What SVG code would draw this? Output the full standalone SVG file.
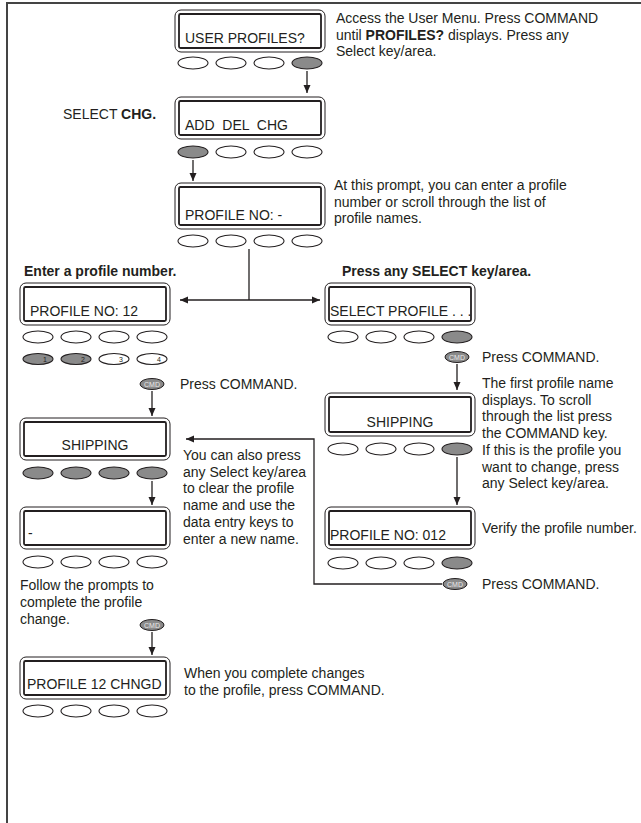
<svg xmlns="http://www.w3.org/2000/svg" width="641" height="823" viewBox="0 0 641 823">
<style>
text{font-family:"Liberation Sans",Arial,Helvetica,sans-serif;fill:#231f20;font-size:14px}
.b{font-weight:bold}
.pre{white-space:pre}
.outer{fill:#fff;stroke:#231f20;stroke-width:1}
.inner{fill:#fff;stroke:#231f20;stroke-width:1.8}
.key{fill:#fff;stroke:#231f20;stroke-width:1.1}
.kon{fill:#8a8a8a;stroke:#231f20;stroke-width:1.1}
.cmd{fill:#8a8a8a;stroke:#231f20;stroke-width:1}
.cmdt{font-size:7px;fill:#e8e8e8;text-anchor:middle}
.dig{font-size:7px;fill:#231f20}
.con{fill:none;stroke:#231f20;stroke-width:1.3}
.frame{fill:none;stroke:#444;stroke-width:2}
</style>
<defs>
<marker id="ah" markerUnits="userSpaceOnUse" markerWidth="8" markerHeight="8" refX="8" refY="4" orient="auto-start-reverse">
<path d="M0,0.5 L8,4 L0,7.5 z" fill="#231f20"/>
</marker>
</defs>
<rect width="641" height="823" fill="#fff"/>
<path class="frame" d="M7,823 V3 H641"/>

<g id="n-user-profiles">
<rect class="outer" x="175" y="10" width="150" height="42" rx="6"/>
<rect class="inner" x="179" y="14" width="142" height="34" rx="1.5"/>
<text x="185" y="43">USER PROFILES?</text>
<ellipse class="key" cx="193" cy="63" rx="15" ry="6"/>
<ellipse class="key" cx="231" cy="63" rx="15" ry="6"/>
<ellipse class="key" cx="269" cy="63" rx="15" ry="6"/>
<ellipse class="kon" cx="307" cy="63" rx="15" ry="6"/>
</g>

<g id="n-add-del-chg">
<rect class="outer" x="175" y="97" width="150" height="42" rx="6"/>
<rect class="inner" x="179" y="101" width="142" height="34" rx="1.5"/>
<text class="pre" x="185" y="130">ADD  DEL  CHG</text>
<ellipse class="kon" cx="193" cy="152" rx="15" ry="6"/>
<ellipse class="key" cx="231" cy="152" rx="15" ry="6"/>
<ellipse class="key" cx="269" cy="152" rx="15" ry="6"/>
<ellipse class="key" cx="307" cy="152" rx="15" ry="6"/>
</g>

<g id="n-profile-no">
<rect class="outer" x="175" y="183" width="150" height="46" rx="6"/>
<rect class="inner" x="179" y="187" width="142" height="38" rx="1.5"/>
<text x="185" y="220">PROFILE NO: -</text>
<ellipse class="key" cx="193" cy="241" rx="15" ry="6"/>
<ellipse class="key" cx="231" cy="241" rx="15" ry="6"/>
<ellipse class="key" cx="269" cy="241" rx="15" ry="6"/>
<ellipse class="key" cx="307" cy="241" rx="15" ry="6"/>
</g>

<g id="n-profile-no-12">
<rect class="outer" x="20" y="283" width="150" height="42" rx="6"/>
<rect class="inner" x="24" y="287" width="142" height="34" rx="1.5"/>
<text x="30" y="316">PROFILE NO: 12</text>
<ellipse class="key" cx="38" cy="337" rx="15" ry="6"/>
<ellipse class="key" cx="76" cy="337" rx="15" ry="6"/>
<ellipse class="key" cx="114" cy="337" rx="15" ry="6"/>
<ellipse class="key" cx="152" cy="337" rx="15" ry="6"/>
<ellipse class="kon" cx="38" cy="359" rx="15" ry="5.5"/>
<ellipse class="kon" cx="76" cy="359" rx="15" ry="5.5"/>
<ellipse class="key" cx="114" cy="359" rx="15" ry="5.5"/>
<ellipse class="key" cx="152" cy="359" rx="15" ry="5.5"/>
<text class="dig" x="43" y="362">1</text>
<text class="dig" x="81" y="362">2</text>
<text class="dig" x="119" y="362">3</text>
<text class="dig" x="157" y="362">4</text>
</g>

<g id="n-select-profile">
<rect class="outer" x="325" y="283" width="150" height="42" rx="6"/>
<rect class="inner" x="329" y="287" width="142" height="34" rx="1.5"/>
<text x="330" y="316">SELECT PROFILE . . .</text>
<ellipse class="key" cx="343" cy="337" rx="15" ry="6"/>
<ellipse class="key" cx="381" cy="337" rx="15" ry="6"/>
<ellipse class="key" cx="419" cy="337" rx="15" ry="6"/>
<ellipse class="kon" cx="457" cy="337" rx="15" ry="6"/>
</g>

<g id="b-cmd-1">
<ellipse class="cmd" cx="152" cy="384" rx="12" ry="5.5"/>
<text class="cmdt" x="152" y="386.5">CMD</text>
</g>

<g id="b-cmd-2">
<ellipse class="cmd" cx="457" cy="357" rx="12" ry="5.5"/>
<text class="cmdt" x="457" y="359.5">CMD</text>
</g>

<g id="n-shipping-right">
<rect class="outer" x="325" y="393" width="150" height="43" rx="6"/>
<rect class="inner" x="329" y="397" width="142" height="35" rx="1.5"/>
<text x="400" y="427" text-anchor="middle">SHIPPING</text>
<ellipse class="key" cx="343" cy="449" rx="15" ry="6"/>
<ellipse class="key" cx="381" cy="449" rx="15" ry="6"/>
<ellipse class="key" cx="419" cy="449" rx="15" ry="6"/>
<ellipse class="kon" cx="457" cy="449" rx="15" ry="6"/>
</g>

<g id="n-profile-012">
<rect class="outer" x="325" y="507" width="150" height="42" rx="6"/>
<rect class="inner" x="329" y="511" width="142" height="34" rx="1.5"/>
<text x="330" y="540">PROFILE NO: 012</text>
<ellipse class="key" cx="343" cy="563" rx="15" ry="6"/>
<ellipse class="key" cx="381" cy="563" rx="15" ry="6"/>
<ellipse class="key" cx="419" cy="563" rx="15" ry="6"/>
<ellipse class="kon" cx="457" cy="563" rx="15" ry="6"/>
</g>

<g id="b-cmd-3">
<ellipse class="cmd" cx="455" cy="584" rx="12" ry="5.5"/>
<text class="cmdt" x="455" y="586.5">CMD</text>
</g>

<g id="n-shipping-left">
<rect class="outer" x="20" y="418" width="150" height="42" rx="6"/>
<rect class="inner" x="24" y="422" width="142" height="34" rx="1.5"/>
<text x="95" y="450" text-anchor="middle">SHIPPING</text>
<ellipse class="kon" cx="38" cy="473" rx="15" ry="6"/>
<ellipse class="kon" cx="76" cy="473" rx="15" ry="6"/>
<ellipse class="kon" cx="114" cy="473" rx="15" ry="6"/>
<ellipse class="kon" cx="152" cy="473" rx="15" ry="6"/>
</g>

<g id="n-blank">
<rect class="outer" x="20" y="507" width="150" height="42" rx="6"/>
<rect class="inner" x="24" y="511" width="142" height="34" rx="1.5"/>
<text x="28" y="538">-</text>
<ellipse class="key" cx="38" cy="562" rx="15" ry="6"/>
<ellipse class="key" cx="76" cy="562" rx="15" ry="6"/>
<ellipse class="key" cx="114" cy="562" rx="15" ry="6"/>
<ellipse class="key" cx="152" cy="562" rx="15" ry="6"/>
</g>

<g id="b-cmd-4">
<ellipse class="cmd" cx="152" cy="625" rx="12" ry="5.5"/>
<text class="cmdt" x="152" y="627.5">CMD</text>
</g>

<g id="n-profile-chngd">
<rect class="outer" x="20" y="657" width="150" height="42" rx="6"/>
<rect class="inner" x="24" y="661" width="142" height="34" rx="1.5"/>
<text x="27" y="689">PROFILE 12 CHNGD</text>
<ellipse class="key" cx="38" cy="711" rx="15" ry="6"/>
<ellipse class="key" cx="76" cy="711" rx="15" ry="6"/>
<ellipse class="key" cx="114" cy="711" rx="15" ry="6"/>
<ellipse class="key" cx="152" cy="711" rx="15" ry="6"/>
</g>

<g id="connectors">
<line class="con" x1="307" y1="71" x2="307" y2="93" marker-end="url(#ah)"/>
<line class="con" x1="193" y1="160" x2="193" y2="181" marker-end="url(#ah)"/>
<line class="con" x1="249" y1="249" x2="249" y2="300"/>
<line class="con" x1="180" y1="300" x2="320" y2="300" marker-start="url(#ah)" marker-end="url(#ah)"/>
<line class="con" x1="152" y1="391" x2="152" y2="416" marker-end="url(#ah)"/>
<line class="con" x1="457" y1="364" x2="457" y2="390" marker-end="url(#ah)"/>
<line class="con" x1="457" y1="457" x2="457" y2="505" marker-end="url(#ah)"/>
<line class="con" x1="152" y1="481" x2="152" y2="505" marker-end="url(#ah)"/>
<line class="con" x1="152" y1="632" x2="152" y2="655" marker-end="url(#ah)"/>
<path class="con" d="M442,584 H314 V439 H186" marker-end="url(#ah)"/>
</g>

<g id="labels">
<text x="336" y="23">Access the User Menu. Press COMMAND</text>
<text x="336" y="39.5">until <tspan class="b">PROFILES?</tspan> displays. Press any</text>
<text x="336" y="56">Select key/area.</text>
<text x="63" y="119">SELECT <tspan class="b">CHG.</tspan></text>
<text x="334" y="190">At this prompt, you can enter a profile</text>
<text x="334" y="206.5">number or scroll through the list of</text>
<text x="334" y="223">profile names.</text>
<text class="b" x="24" y="276">Enter a profile number.</text>
<text class="b" x="342" y="276">Press any SELECT key/area.</text>
<text x="180" y="389">Press COMMAND.</text>
<text x="482" y="362">Press COMMAND.</text>
<text x="482" y="388">The first profile name</text>
<text x="482" y="404.7">displays. To scroll</text>
<text x="482" y="421.4">through the list press</text>
<text x="482" y="438.1">the COMMAND key.</text>
<text x="482" y="454.8">If this is the profile you</text>
<text x="482" y="471.5">want to change, press</text>
<text x="482" y="488.2">any Select key/area.</text>
<text x="482" y="533">Verify the profile number.</text>
<text x="482" y="589">Press COMMAND.</text>
<text x="183" y="460">You can also press</text>
<text x="183" y="476.7">any Select key/area</text>
<text x="183" y="493.4">to clear the profile</text>
<text x="183" y="510.1">name and use the</text>
<text x="183" y="526.8">data entry keys to</text>
<text x="183" y="543.5">enter a new name.</text>
<text x="20" y="590">Follow the prompts to</text>
<text x="20" y="606.8">complete the profile</text>
<text x="20" y="623.6">change.</text>
<text x="184" y="678">When you complete changes</text>
<text x="184" y="694.5">to the profile, press COMMAND.</text>
</g>
</svg>
